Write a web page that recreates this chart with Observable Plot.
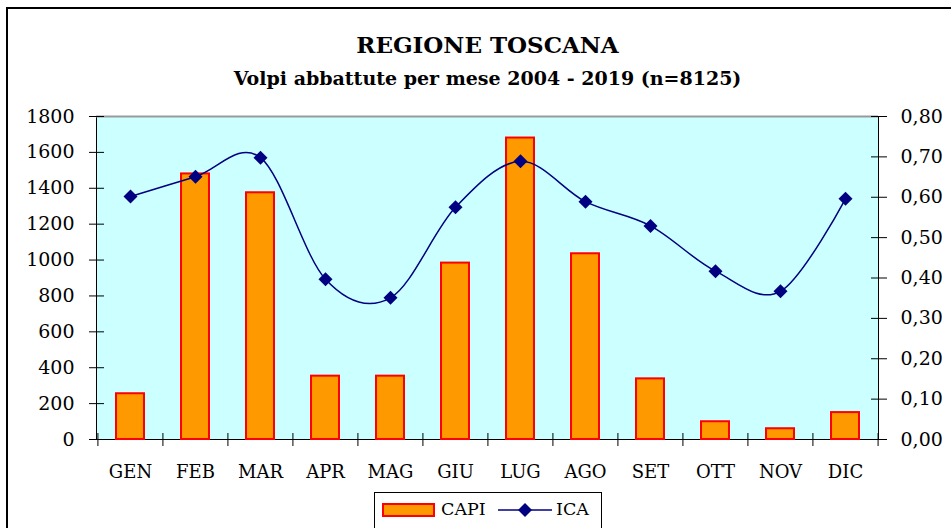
<!DOCTYPE html>
<html>
<head>
<meta charset="utf-8">
<script src="https://cdn.jsdelivr.net/npm/d3@7"></script>
<script src="https://cdn.jsdelivr.net/npm/@observablehq/plot@0.6"></script>
<style>
  html, body { margin: 0; padding: 0; background: #fff; }
  #wrap { position: relative; width: 951px; height: 528px; overflow: hidden; background: #fff; font-family: "DejaVu Serif", serif; }
  #frame { position: absolute; left: 6px; top: 7px; width: 980px; height: 560px; border-left: 2px solid #000; border-top: 2px solid #000; box-sizing: border-box; }
  #chart { position: absolute; left: 0; top: 0; }
  .title { position: absolute; left: 0; width: 975px; text-align: center; font-weight: bold; color: #000; white-space: nowrap; font-family: "DejaVu Serif", serif; }
  #t1 { top: 31px; font-size: 23px; }
  #t2 { top: 67px; font-size: 19px; }
  #legend { position: absolute; left: 374px; top: 492px; width: 228px; height: 50px; border: 1px solid #000; background: #fff; box-sizing: border-box; }
  #legend .sw { position: absolute; left: 7px; top: 10px; width: 53px; height: 14px; background: #FF9900; border: 2px solid #FF0000; box-sizing: border-box; }
  #legend .lab { position: absolute; top: 5px; font-size: 17.5px; line-height: 22px; font-family: "DejaVu Serif", serif; }
  #legend svg { position: absolute; left: 123px; top: 8px; }
</style>
</head>
<body>
<div id="wrap">
  <div id="frame"></div>
  <div id="chart"></div>
  <div class="title" id="t1">REGIONE TOSCANA</div>
  <div class="title" id="t2">Volpi abbattute per mese 2004 - 2019 (n=8125)</div>
  <div id="legend">
    <div class="sw"></div>
    <div class="lab" style="left:66px">CAPI</div>
    <svg width="56" height="18"><line x1="0" y1="9" x2="54" y2="9" stroke="#000080" stroke-width="1.5"></line><path d="M27,2 L34,9 L27,16 L20,9 Z" fill="#000080"></path></svg>
    <div class="lab" style="left:181px">ICA</div>
  </div>
</div>
<script>
const months = ["GEN","FEB","MAR","APR","MAG","GIU","LUG","AGO","SET","OTT","NOV","DIC"];
const capi = [255, 1480, 1375, 353, 353, 983, 1680, 1035, 338, 99, 60, 150];
const ica = [0.602, 0.651, 0.698, 0.397, 0.351, 0.575, 0.689, 0.589, 0.529, 0.417, 0.367, 0.596];
const leftTicks = [0, 200, 400, 600, 800, 1000, 1200, 1400, 1600, 1800];
const rightTicks = [0, 0.1, 0.2, 0.3, 0.4, 0.5, 0.6, 0.7, 0.8];

const yMax = 1800, icaMax = 0.8, k = yMax / icaMax;
const data = months.map((m, i) => ({month: m, capi: capi[i], ica: ica[i], icaY: ica[i] * k}));

const W = 951, H = 528, mL = 96, mR = 73, mT = 116, mB = 89;
const plotH = H - mT - mB;
const bw = (W - mL - mR) / months.length;
const serif = "'DejaVu Serif', serif";

const chart = Plot.plot({
  width: W, height: H,
  marginLeft: mL, marginRight: mR, marginTop: mT, marginBottom: mB,
  style: {background: "transparent", fontFamily: serif, fontSize: "19px", color: "#000"},
  x: {domain: months, paddingInner: 0.575, paddingOuter: 0.2875, label: null},
  y: {domain: [0, yMax], label: null},
  marks: [
    Plot.frame({fill: "#CCFFFF", stroke: "#000"}),
    Plot.ruleY([yMax], {stroke: "#9a9a9a", strokeWidth: 2}),
    Plot.barY(data, {x: "month", y: "capi", fill: "#FF9900", stroke: "#FF0000", strokeWidth: 2}),
    Plot.lineY(data, {x: "month", y: "icaY", stroke: "#000080", strokeWidth: 1.5, curve: "cardinal", tension: 0}),
    Plot.dot(data, {x: "month", y: "icaY", symbol: "diamond2", r: 6.3, fill: "#000080", stroke: null}),
    Plot.axisY(leftTicks, {anchor: "left", tickSize: 15, insetLeft: 8, tickPadding: 15, fontSize: 19, label: null,
      tickFormat: v => String(v)}),
    Plot.axisY(rightTicks.map(v => v * k), {anchor: "right", tickSize: 16, insetRight: 8, tickPadding: 14, fontSize: 19, label: null,
      tickFormat: v => (v / k).toFixed(2).replace(".", ",")}),
    Plot.axisX({anchor: "bottom", tickSize: 0, tickPadding: 26, fontSize: 18, label: null}),
    Plot.ruleX(months, {x: d => d, dx: -bw / 2, insetTop: plotH - 6, insetBottom: -7, stroke: "#000"}),
    Plot.ruleX([months[months.length - 1]], {x: d => d, dx: bw / 2, insetTop: plotH - 6, insetBottom: -7, stroke: "#000"})
  ]
});
document.getElementById("chart").appendChild(chart);
</script>
</body>
</html>
